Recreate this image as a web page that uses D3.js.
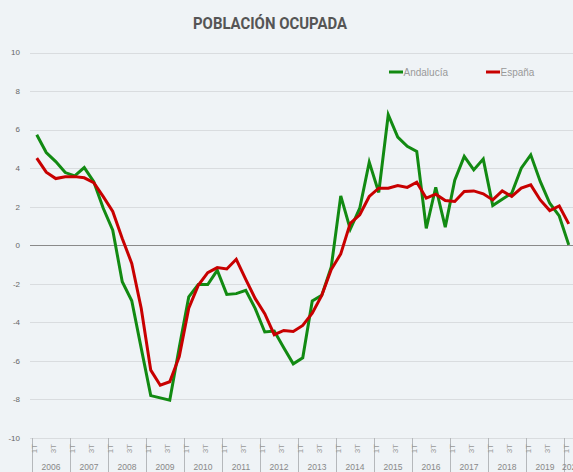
<!DOCTYPE html>
<html>
<head>
<meta charset="utf-8">
<script src="https://cdn.jsdelivr.net/npm/d3@7"></script>
<style>
  body { margin: 0; background: #eff3f6; }
  svg { display: block; font-family: "Liberation Sans", Arial, sans-serif; }
</style>
</head>
<body>
<svg id="chart"></svg>
<script>
// tick labels for the category axis
var years = [2006, 2007, 2008, 2009, 2010, 2011, 2012, 2013, 2014, 2015, 2016, 2017, 2018, 2019, 2020];
var quarters = ["1T", "2T", "3T", "4T"];
var yTicks = [10, 8, 6, 4, 2, 0, -2, -4, -6, -8, -10];

// year-on-year change in employed population (%), one value per quarter from 1T 2006 to 1T 2020
var andalucia = [5.73, 4.81, 4.34, 3.77, 3.6, 4.03, 3.3, 1.92, 0.78, -1.89, -2.88, -5.35,
  -7.8, -7.92, -8.04, -5.3, -2.68, -2.04, -2.04, -1.3, -2.55, -2.51, -2.34, -3.29,
  -4.5, -4.45, -5.32, -6.15, -5.84, -2.89, -2.6, -1.13, 2.56, 0.83, 1.92, 4.31,
  2.74, 6.77, 5.61, 5.13, 4.87, 0.88, 3.01, 0.94, 3.37, 4.61, 3.91, 4.47,
  2.06, 2.39, 2.7, 4.0, 4.69, 3.31, 2.18, 1.52, 0.02];
var espana = [4.52, 3.79, 3.46, 3.55, 3.56, 3.5, 3.25, 2.52, 1.75, 0.35, -0.94, -3.28,
  -6.48, -7.26, -7.08, -5.78, -3.27, -2.08, -1.42, -1.16, -1.23, -0.73, -1.77, -2.77,
  -3.55, -4.64, -4.42, -4.47, -4.16, -3.52, -2.6, -1.26, -0.45, 1.14, 1.58, 2.53,
  2.96, 2.96, 3.1, 3.0, 3.27, 2.44, 2.65, 2.32, 2.27, 2.79, 2.82, 2.67,
  2.35, 2.82, 2.53, 2.96, 3.13, 2.35, 1.8, 2.04, 1.11];

var screen = {width: 573, height: 472};
var series = [
  {name: "Andalucía", color: "#128a12", values: andalucia},
  {name: "España", color: "#c80000", values: espana}
];

// build the list of categories "2006 1T" ... "2020 1T"
var categories = [];
years.forEach(function(y) {
  quarters.forEach(function(q) {
    if (categories.length < andalucia.length) categories.push({year: y, q: q, key: y + " " + q});
  });
});

var svg = d3.select("#chart")
  .attr("width", screen.width)
  .attr("height", screen.height);

var xScale = d3.scaleBand()
  .domain(categories.map(function(c) { return c.key; }))
  .range([32, 32 + 9.5 * categories.length]);

var yScale = d3.scaleLinear()
  .domain([-10, 10])
  .range([438, 52.5]);

//title
svg.append("text")
  .text("POBLACIÓN OCUPADA")
  .attr("x", 270)
  .attr("y", 29)
  .attr("text-anchor", "middle")
  .attr("textLength", 154)
  .attr("lengthAdjust", "spacingAndGlyphs")
  .style("font-family", "Roboto, 'Liberation Sans', sans-serif")
  .style("font-size", "16px")
  .style("font-weight", "bold")
  .style("fill", "#555");

//grid + y labels
var grid = svg.append("g").attr("class", "grid");
grid.selectAll("line")
  .data(yTicks)
  .enter()
  .append("line")
  .attr("x1", 30)
  .attr("x2", screen.width)
  .attr("y1", function(d) { return Math.round(yScale(d)) + 0.5; })
  .attr("y2", function(d) { return Math.round(yScale(d)) + 0.5; })
  .style("stroke", function(d) { return d == 0 ? "#8a8a8a" : "#d9dcdf"; })
  .style("stroke-width", 1);

grid.selectAll("text")
  .data(yTicks)
  .enter()
  .append("text")
  .text(function(d) { return d; })
  .attr("x", 20)
  .attr("y", function(d) { return yScale(d); })
  .attr("dy", "0.35em")
  .attr("text-anchor", "end")
  .style("font-size", "8px")
  .style("fill", "#666");

//x axis (quarters + years)
var axis = svg.append("g").attr("class", "xaxis");
var yearStarts = categories.filter(function(c) { return c.q == "1T"; });

axis.selectAll("line.year")
  .data(yearStarts)
  .enter()
  .append("line")
  .attr("class", "year")
  .attr("x1", function(c) { return Math.round(xScale(c.key)) + 0.5; })
  .attr("x2", function(c) { return Math.round(xScale(c.key)) + 0.5; })
  .attr("y1", 438)
  .attr("y2", screen.height)
  .style("stroke", "#b5b8bb");

axis.selectAll("text.quarter")
  .data(categories.filter(function(c) { return c.q == "1T" || c.q == "3T"; }))
  .enter()
  .append("text")
  .attr("class", "quarter")
  .text(function(c) { return c.q; })
  .attr("transform", function(c) { return "translate(" + (xScale(c.key) + 2.5) + ",444) rotate(-90)"; })
  .attr("dy", "0.35em")
  .attr("text-anchor", "end")
  .style("font-size", "8px")
  .style("fill", "#999");

axis.selectAll("text.yearlabel")
  .data(yearStarts)
  .enter()
  .append("text")
  .attr("class", "yearlabel")
  .text(function(c) { return c.year; })
  .attr("x", function(c) {
    var start = xScale(c.key);
    var end = Math.min(start + 4 * xScale.bandwidth(), screen.width);
    return end - start < 20 ? start - 2 : (start + end) / 2;
  })
  .attr("y", 469.5)
  .attr("text-anchor", function(c) {
    return screen.width - xScale(c.key) < 20 ? "start" : "middle";
  })
  .style("font-size", "8.5px")
  .style("fill", "#888");

//lines
var linegen = d3.line()
  .x(function(v, i) { return xScale(categories[i].key) + xScale.bandwidth() / 2; })
  .y(function(v) { return yScale(v); });

svg.append("g")
  .selectAll("path")
  .data(series)
  .enter()
  .append("path")
  .attr("d", function(s) { return linegen(s.values); })
  .attr("fill", "none")
  .style("stroke", function(s) { return s.color; })
  .style("stroke-width", 3)
  .style("stroke-linejoin", "miter");

//legend
var legend = svg.append("g")
  .selectAll("g")
  .data(series)
  .enter()
  .append("g")
  .attr("transform", function(s, i) { return "translate(" + (389 + i * 97) + ",72)"; });

legend.append("line")
  .attr("x1", 0)
  .attr("x2", 14)
  .style("stroke", function(s) { return s.color; })
  .style("stroke-width", 3);

legend.append("text")
  .text(function(s) { return s.name; })
  .attr("x", 14.5)
  .attr("dy", "0.35em")
  .style("font-size", "10px")
  .style("fill", "#999");
</script>
</body>
</html>
